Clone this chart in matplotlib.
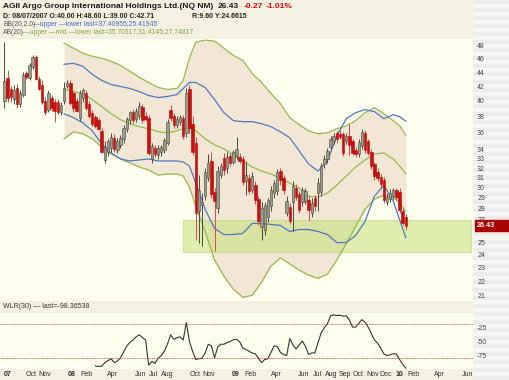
import numpy as np
import pandas as pd
import matplotlib
matplotlib.use("Agg")
import matplotlib.pyplot as plt
import matplotlib.dates as mdates
from matplotlib.patches import Rectangle
from matplotlib.ticker import NullLocator
from matplotlib.transforms import blended_transform_factory

plt.rcParams['font.family'] = ['Liberation Sans', 'DejaVu Sans']

# weekly bars, first bar = week of 08/07/2007
first_week = '2007-08-03'

opens = [40.00, 43.2, 41.6, 40.3, 41.7, 39.6, 40.8, 43.8, 43.2, 44.8,
         46.3, 43.0, 42.2, 40.0, 38.8, 40.4, 39.9, 39.8, 38.6, 40.0,
         42.0, 42.5, 41.0, 40.0, 37.8, 40.4, 41.0, 39.6, 38.4, 37.9,
         37.5, 36.2, 32.9, 33.8, 34.2, 35.4, 34.0, 34.6, 35.2, 36.4,
         37.5, 38.5, 37.6, 38.1, 39.2, 38.0, 37.8, 33.0, 34.2, 33.4,
         33.8, 34.0, 34.8, 38.8, 38.0, 36.9, 37.3, 37.8, 36.0, 41.6,
         37.0, 34.8, 27.8, 28.3, 29.2, 31.0, 32.8, 29.6, 28.0, 31.3,
         33.1, 32.0, 33.3, 32.7, 33.3, 33.2, 33.0, 30.7, 31.0, 29.8,
         30.3, 28.9, 26.3, 26.1, 27.2, 28.2, 29.5, 29.7, 31.7, 31.0,
         27.6, 28.1, 28.6, 30.0, 29.4, 28.6, 28.7, 28.8, 27.6, 29.0,
         29.5, 29.6, 32.4, 33.0, 34.3, 35.0, 36.0, 35.8, 35.8, 35.0,
         35.6, 35.0, 34.0, 33.5, 34.4, 36.0, 35.0, 33.8, 32.4, 31.6,
         31.1, 30.8, 28.6, 28.9, 29.2, 29.8, 29.6, 27.8, 27.2]
highs = [48.60, 44.3, 42.0, 42.2, 42.3, 41.4, 44.0, 44.2, 45.3, 46.6,
         46.5, 43.4, 42.8, 40.5, 41.4, 40.8, 40.3, 40.2, 39.8, 42.6,
         42.8, 42.9, 41.3, 40.4, 41.5, 41.8, 41.5, 40.0, 38.8, 38.2,
         37.8, 36.5, 35.0, 35.2, 35.9, 35.8, 35.4, 35.7, 36.9, 37.9,
         38.7, 38.9, 39.0, 39.9, 39.6, 38.5, 38.2, 34.8, 34.6, 34.5,
         34.6, 35.4, 37.7, 39.4, 38.4, 38.0, 38.2, 38.2, 41.8, 42.2,
         38.0, 35.5, 31.3, 29.5, 32.0, 33.5, 33.8, 30.0, 32.2, 32.6,
         33.6, 33.8, 33.7, 34.0, 35.5, 33.7, 33.3, 32.8, 31.4, 31.6,
         30.7, 29.2, 28.6, 28.6, 29.0, 30.2, 30.8, 31.9, 32.0, 31.3,
         29.2, 28.5, 30.7, 30.4, 29.7, 30.1, 30.0, 29.2, 29.0, 29.3,
         31.0, 32.6, 33.4, 34.2, 35.6, 36.0, 36.2, 36.3, 36.1, 35.9,
         37.0, 35.3, 34.3, 35.2, 36.4, 36.3, 35.3, 34.1, 32.7, 32.0,
         31.4, 31.1, 29.5, 29.9, 30.0, 30.0, 30.0, 28.0, 27.5]
lows = [39.00, 39.8, 39.8, 39.6, 39.0, 39.2, 40.5, 43.0, 42.8, 44.5,
        42.8, 41.4, 39.6, 38.2, 38.5, 38.7, 37.3, 38.3, 38.2, 39.6,
        41.8, 39.4, 38.6, 38.5, 37.4, 39.8, 38.8, 37.8, 36.8, 36.6,
        36.3, 33.6, 32.6, 33.3, 33.8, 33.8, 33.6, 34.2, 34.8, 36.1,
        37.1, 37.2, 37.3, 37.7, 37.2, 37.4, 33.4, 32.6, 33.2, 33.0,
        33.3, 33.7, 34.5, 37.4, 36.6, 36.6, 36.9, 35.2, 35.5, 36.0,
        33.4, 25.2, 25.0, 24.7, 28.8, 30.7, 29.0, 24.3, 27.6, 31.0,
        31.3, 31.5, 32.2, 32.4, 33.0, 32.5, 30.3, 29.3, 29.4, 29.5,
        28.4, 26.5, 25.2, 25.6, 26.8, 27.8, 29.0, 29.3, 30.3, 29.4,
        27.3, 26.6, 26.0, 28.8, 27.6, 28.2, 28.4, 26.9, 27.2, 27.8,
        27.8, 29.2, 32.0, 32.6, 34.0, 34.7, 34.8, 35.3, 33.3, 34.7,
        33.4, 33.4, 33.2, 33.2, 34.1, 33.7, 33.4, 31.9, 30.8, 30.7,
        30.0, 28.5, 28.3, 28.6, 28.9, 28.8, 27.6, 26.5, 26.1]
closes = [42.71, 40.4, 40.5, 41.5, 39.6, 41.0, 43.6, 43.3, 45.0, 46.2,
          43.0, 41.6, 39.9, 38.5, 41.0, 39.0, 38.7, 38.6, 39.5, 41.8,
          42.4, 39.7, 39.0, 38.7, 41.0, 41.4, 39.0, 38.0, 37.1, 36.8,
          36.4, 33.8, 34.3, 35.0, 35.5, 34.1, 35.0, 35.4, 36.6, 37.6,
          38.5, 37.5, 38.7, 39.3, 37.5, 37.7, 33.7, 34.4, 33.5, 34.2,
          34.3, 35.1, 37.3, 37.8, 36.9, 37.6, 37.9, 35.6, 41.0, 36.6,
          33.8, 27.6, 29.8, 28.6, 31.6, 32.6, 29.4, 28.7, 31.7, 32.2,
          31.8, 33.2, 32.6, 33.8, 34.1, 32.8, 30.6, 31.3, 29.7, 31.2,
          28.8, 26.9, 28.0, 28.3, 28.8, 29.8, 30.5, 31.6, 30.8, 29.8,
          28.7, 26.9, 30.2, 29.1, 27.9, 29.8, 29.7, 27.9, 28.5, 28.2,
          30.5, 32.2, 33.0, 33.9, 35.2, 35.6, 35.2, 35.5, 33.6, 35.6,
          34.5, 33.7, 33.5, 34.9, 36.1, 34.0, 33.7, 32.2, 31.2, 31.0,
          30.4, 28.8, 29.1, 29.5, 29.8, 29.1, 27.9, 26.70, 26.43]

# indicator values at these bar numbers
band_idx = [19, 22, 25, 28, 31, 34, 37, 40, 43, 46, 49, 52, 55, 57, 59, 61, 64, 67, 70, 73,
            76, 79, 82, 85, 88, 91, 94, 97, 100, 103, 106, 109, 112, 115, 118, 121, 124, 126, 128]
ab_upper = [48.44, 47.63, 46.84, 46.37, 46.07, 45.61, 45.00, 44.11, 43.23, 42.51,
            41.81, 41.53, 41.67, 42.80, 46.07, 48.60, 48.92, 48.76, 47.63, 46.50,
            45.76, 43.81, 42.51, 40.98, 39.64, 37.83, 36.96, 36.22, 35.86, 35.98,
            36.47, 36.83, 37.45, 38.46, 39.11, 38.33, 37.45, 36.83, 35.70317]
ab_mid = [41.53, 41.25, 40.98, 40.17, 39.24, 38.33, 37.58, 37.08, 36.71, 36.47,
          36.10, 35.98, 36.22, 36.47, 36.59, 36.22, 35.26, 34.56, 34.11, 33.43,
          32.77, 32.12, 31.69, 31.38, 30.96, 30.45, 29.95, 29.16, 29.06, 29.45,
          30.25, 31.17, 32.12, 32.88, 33.54, 33.65, 32.99, 32.23, 31.4145]
ab_lower = [35.26, 36.10, 35.86, 35.26, 34.33, 33.54, 32.99, 32.55, 32.12, 31.80,
            31.27, 31.38, 31.38, 31.17, 30.05, 28.20, 25.94, 23.60, 22.36, 21.42,
            20.85, 20.99, 21.92, 23.13, 23.76, 23.29, 22.82, 22.44, 22.21, 22.51,
            23.60, 24.92, 26.38, 27.92, 28.87, 29.25, 29.06, 28.49, 27.74817]
bb_upper = [45.15, 45.30, 44.85, 43.67, 42.80, 42.23, 41.95, 41.67, 41.25, 40.71,
            40.44, 40.58, 40.85, 41.67, 42.51, 42.51, 41.81, 40.17, 38.46, 37.45,
            37.33, 37.33, 37.08, 36.71, 36.10, 35.38, 33.88, 32.44, 31.69, 32.77,
            35.62, 37.70, 38.46, 38.85, 38.59, 37.70, 38.20, 37.95, 37.40955]
bb_lower = [38.33, 37.83, 37.20, 36.22, 34.68, 33.65, 32.99, 32.77, 32.88, 32.99,
            32.77, 32.77, 32.77, 32.66, 32.23, 30.45, 27.92, 26.20, 25.68, 25.68,
            25.77, 26.64, 26.64, 26.55, 26.47, 25.94, 26.11, 26.11, 25.94, 25.68,
            25.00, 25.00, 25.60, 26.82, 29.16, 30.25, 28.68, 26.99, 25.41945]

# WLR(30), from bar 29 on
wlr_start = 29
wlr = [-94.4, -95.5, -95.0, -88.7, -85.2, -81.7, -88.7, -85.8, -80.0, -69.6,
       -59.2, -52.3, -48.3, -42.5, -39.0, -43.7, -48.3, -93.3, -86.4, -89.8,
       -80.6, -75.9, -68.4, -55.2, -39.0, -47.1, -44.2, -42.5, -48.3, -17.1,
       -51.2, -68.4, -82.9, -81.7, -80.6, -71.3, -55.8, -58.7, -80.0, -60.9,
       -55.8, -55.8, -52.9, -50.6, -47.7, -47.1, -51.2, -62.7, -65.0, -68.4,
       -71.3, -73.0, -80.6, -88.7, -82.9, -81.7, -70.2, -58.7, -59.8, -70.2,
       -74.2, -75.9, -45.4, -57.0, -64.4, -57.0, -50.0, -59.8, -74.2, -71.3,
       -71.3, -52.9, -35.6, -26.4, -19.4, -5.0, -3.3, -4.4, -3.9, -5.6,
       -5.0, -12.5, -25.2, -25.2, -18.3, -11.9, -16.6, -25.2, -36.7, -48.3,
       -54.0, -62.7, -73.0, -75.9, -74.8, -72.5, -73.6, -82.9, -91.5, -98.36538]

# support zone drawn on the chart
zone_low, zone_high = 24.27, 26.91
zone_start, zone_end = '2008-09-05', '2010-06-10'

# 26 sits under the last-price tag
price_ticks = [48, 46, 44, 42, 40, 38, 36, 34, 33, 32, 31, 30, 29, 28, 27, 25, 24, 23, 22, 21]
wlr_ticks = [-25, -50, -75]
tick_dates = ['2007-08-09', '2007-10-01', '2007-11-01', '2008-01-01', '2008-02-01', '2008-04-01',
              '2008-06-01', '2008-07-01', '2008-08-01', '2008-10-01', '2008-11-01', '2009-01-01',
              '2009-02-01', '2009-04-01', '2009-06-01', '2009-07-01', '2009-08-01', '2009-09-01',
              '2009-10-01', '2009-11-01', '2009-12-01', '2010-01-01', '2010-02-01', '2010-04-01',
              '2010-06-01']
tick_labels = ['07', 'Oct', 'Nov', '08', 'Feb', 'Apr', 'Jun', 'Jul', 'Aug', 'Oct', 'Nov', '09',
               'Feb', 'Apr', 'Jun', 'Jul', 'Aug', 'Sep', 'Oct', 'Nov', 'Dec', '10', 'Feb', 'Apr', 'Jun']

W, H = 509, 380
def fx(px):
    return px / W
def fy(py):
    return 1 - py / H

o = np.array(opens); h = np.array(highs); l = np.array(lows); c = np.array(closes)
dates = pd.date_range(first_week, periods=len(c), freq='7D')
xd = mdates.date2num(dates)
bx = xd[band_idx]
x_left, x_right = mdates.datestr2num('2007-07-24'), mdates.datestr2num('2010-06-14')

fig = plt.figure(figsize=(W / 100, H / 100), dpi=100, facecolor='#F4F1E2')

# striped price-scale column on the right
for k in range(0, H, 8):
    fig.add_artist(Rectangle((fx(473), fy(k + 4)), 1 - fx(473), 4 / H, transform=fig.transFigure,
                             color='#ECECEA', lw=0, zorder=-2))
    fig.add_artist(Rectangle((fx(473), fy(k + 8)), 1 - fx(473), 4 / H, transform=fig.transFigure,
                             color='#F6F6F4', lw=0, zorder=-2))

# ---- price panel ----
ax = fig.add_axes([0, fy(301), fx(473), fy(39) - fy(301)])
ax.set_facecolor('#FFFFF0')
ax.set_yscale('log')

ax.fill_between(bx, ab_lower, ab_upper, color='#F1E7D4', lw=0, zorder=0.5)
ax.add_patch(Rectangle((mdates.datestr2num(zone_start), zone_low),
                       mdates.datestr2num(zone_end) - mdates.datestr2num(zone_start),
                       zone_high - zone_low, facecolor='#C6DF78', alpha=0.55,
                       edgecolor='#B5D46A', lw=0.8, zorder=1))
ax.plot(bx, ab_upper, color='#93B84A', lw=0.9, zorder=2)
ax.plot(bx, ab_mid, color='#93B84A', lw=0.9, zorder=2)
ax.plot(bx, ab_lower, color='#93B84A', lw=0.9, zorder=2)
ax.plot(bx, bb_upper, color='#4C78C0', lw=0.9, zorder=2)
ax.plot(bx, bb_lower, color='#4C78C0', lw=0.9, zorder=2)

up = c >= o
ax.vlines(xd, l, h, colors=np.where(up, '#4A4A40', '#D84A4A'), lw=0.7, zorder=3)
ax.bar(xd, np.maximum(np.abs(c - o), 0.08), bottom=np.minimum(o, c), width=5.4,
       color=np.where(up, '#9C9C8A', '#CC1010'), edgecolor=np.where(up, '#44443A', '#B80000'),
       lw=0.4, zorder=4)

ax.set_xlim(x_left, x_right)
ax.set_ylim(20.6, 49.1)
ax.yaxis.tick_right()
ax.set_yticks(price_ticks)
ax.set_yticklabels([str(t) for t in price_ticks])
ax.yaxis.set_minor_locator(NullLocator())
ax.tick_params(axis='y', length=0, pad=3, labelsize=5, labelcolor='#444444')
ax.set_xticks([])
for s in ax.spines.values():
    s.set_visible(False)

# last price tag
tr = blended_transform_factory(ax.transAxes, ax.transData)
ax.add_patch(Rectangle((1.004, 25.97), 0.08, 26.91 - 25.97, transform=tr, color='#A80000',
                       clip_on=False, zorder=6))
ax.text(1.008, c[-1], '%.2f' % c[-1], transform=tr, color='white', fontsize=5.2,
        fontweight='bold', va='center', ha='left', clip_on=False, zorder=7)

# ---- WLR panel ----
ax2 = fig.add_axes([0, fy(369), fx(473), fy(313) - fy(369)])
ax2.set_facecolor('#FFFFF0')
ax2.plot(xd[wlr_start:wlr_start + len(wlr)], wlr, color='#333333', lw=0.8)
ax2.axhline(-20, color='#CC3030', ls=(0, (1, 1)), lw=0.6)
ax2.axhline(-80, color='#CC3030', ls=(0, (1, 1)), lw=0.6)
ax2.set_xlim(x_left, x_right)
ax2.set_ylim(-100, 0)
ax2.yaxis.tick_right()
ax2.set_yticks(wlr_ticks)
ax2.set_yticklabels([str(t) for t in wlr_ticks])
ax2.tick_params(axis='y', length=0, pad=3, labelsize=5, labelcolor='#444444')
ax2.set_xticks(mdates.datestr2num(tick_dates))
ax2.set_xticklabels(tick_labels)
ax2.tick_params(axis='x', length=0, pad=1.5, labelsize=5, labelcolor='#333333')
for lab in ax2.get_xticklabels():
    if lab.get_text().isdigit():
        lab.set_fontweight('bold')
for s in ax2.spines.values():
    s.set_visible(False)

# ---- header texts ----
def htext(px, py, s, **kw):
    fig.text(fx(px), fy(py), s, va='center', ha='left', **kw)

htext(3, 7, 'AGII Argo Group International Holdings Ltd.(NQ NM)', fontsize=6, fontweight='bold', color='#1A1A1A')
htext(218, 7, '26.43', fontsize=6, fontweight='bold', color='#1A1A1A')
htext(244, 7, '-0.27', fontsize=6, fontweight='bold', color='#E00000')
htext(266, 7, '-1.01%', fontsize=6, fontweight='bold', color='#E00000')
htext(3, 17, 'D: 08/07/2007 O:40.00 H:48.60 L:39.00 C:42.71', fontsize=5, fontweight='bold', color='#222222')
htext(192, 17, 'R:9.60 Y:24.6615', fontsize=5, fontweight='bold', color='#222222')
htext(3, 25, 'BB(20,2.0)', fontsize=4.9, color='#555555')
htext(33, 25, '\u2014upper \u2014lower last=37.40955;25.41945', fontsize=4.9, color='#3E6CC0')
htext(3, 33, 'AB(20)', fontsize=4.9, color='#555555')
htext(23, 33, '\u2014upper \u2014mid \u2014lower last=35.70317;31.4145;27.74817', fontsize=4.9, color='#7FA83A')
htext(3, 307, 'WLR(30) \u2014 last=-98.36538', fontsize=5, color='#333333')

fig.savefig('out.png', dpi=100, facecolor=fig.get_facecolor())
